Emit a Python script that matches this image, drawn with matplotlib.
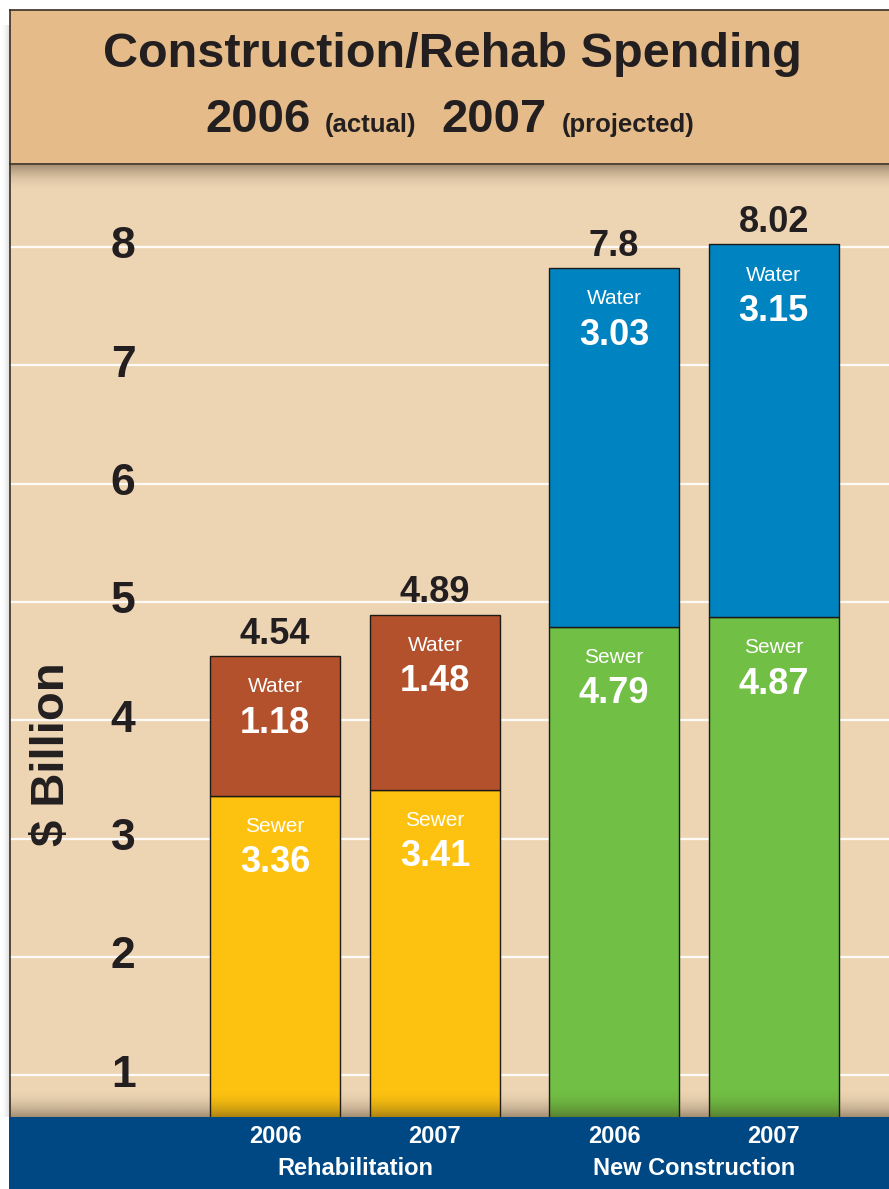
import numpy as np
import matplotlib.pyplot as plt
from matplotlib import transforms

plt.rcParams['font.family'] = ['Liberation Sans', 'DejaVu Sans']

# Spending, $ billion
years = ["2006", "2007", "2006", "2007"]
groups = ["Rehabilitation", "New Construction"]
sewer = [3.36, 3.41, 4.79, 4.87]
water = [1.18, 1.48, 3.03, 3.15]
totals = ["4.54", "4.89", "7.8", "8.02"]
y_ticks = [1, 2, 3, 4, 5, 6, 7, 8]

sewer_colors = ["#fdc210", "#fdc210", "#71bf44", "#71bf44"]
water_colors = ["#b3512c", "#b3512c", "#0083c1", "#0083c1"]

INK = "#231f20"
W, H = 889, 1189


def frac(x0, y0, x1, y1):
    """Pixel box (top-left origin) -> figure fraction rect."""
    return [x0 / W, 1 - y1 / H, (x1 - x0) / W, (y1 - y0) / H]


def shadow(fig, box, color, alpha, zorder, axis="y"):
    ax = fig.add_axes(frac(*box), zorder=zorder)
    ax.set_axis_off()
    ax.patch.set_visible(False)
    n = 64
    rgba = np.zeros((n, 1, 4)) if axis == "y" else np.zeros((1, n, 4))
    rgba[..., :3] = color
    rgba[..., 3] = alpha.reshape(rgba.shape[:2])
    ax.imshow(rgba, aspect="auto", interpolation="bilinear", extent=[0, 1, 0, 1])
    return ax


fig = plt.figure(figsize=(W / 100, H / 100), dpi=100, facecolor="white")

# header panel
hdr = fig.add_axes(frac(10, 10, W + 2, 164), zorder=3)
hdr.set_facecolor("#e5bc89")
hdr.set_xticks([])
hdr.set_yticks([])
for side in ("left", "top", "bottom"):
    hdr.spines[side].set_color("#3a2e25")
    hdr.spines[side].set_linewidth(1.2)
hdr.spines["right"].set_visible(False)

fig.text(452 / W, 1 - 67 / H, "Construction/Rehab Spending", ha="center",
         va="baseline", fontsize=35, fontweight="bold", color=INK, zorder=5)
for x, txt, size in [(205, "2006", 34), (325, "(actual)", 18.5),
                     (441, "2007", 34), (562, "(projected)", 18.5)]:
    fig.text(x / W, 1 - 132 / H, txt, ha="left", va="baseline",
             fontsize=size, fontweight="bold", color=INK, zorder=5)

# main plot area
ax = fig.add_axes(frac(10, 164, W + 2, 1117), zorder=1)
ax.set_facecolor("#edd5b3")
x = np.array([0, 1, 2.12, 3.12])
width = 0.815
ax.set_xlim(-1.658, 3.853)
ax.set_ylim(0.647, 8.70)

ax.set_yticks(y_ticks)
ax.set_xticks([])
ax.tick_params(axis="y", length=0, labelleft=False)
ax.yaxis.grid(True, color="white", linewidth=1.6, alpha=0.9)
ax.set_axisbelow(True)
for side in ("top", "right", "bottom"):
    ax.spines[side].set_visible(False)
ax.spines["left"].set_color("#3a2e25")
ax.spines["left"].set_linewidth(1.2)

ax.bar(x, sewer, width, color=sewer_colors, edgecolor="#1e1a17", linewidth=1, zorder=2)
ax.bar(x, water, width, bottom=sewer, color=water_colors, edgecolor="#1e1a17",
       linewidth=1, zorder=2)

for v in y_ticks:
    ax.text(-0.95, v, str(v), ha="center", va="center", fontsize=32,
            fontweight="bold", color=INK)
ax.text(-1.395, 3.71, "$ Billion", rotation=90, ha="center", va="center",
        fontsize=34, fontweight="bold", color=INK)

for xi, s, w, tot in zip(x, sewer, water, totals):
    top = s + w
    ax.annotate(tot, (xi, top), xytext=(0, 9), textcoords="offset points",
                ha="center", va="baseline", fontsize=26, fontweight="bold", color=INK)
    for seg_top, name, val in [(top, "Water", w), (s, "Sewer", s)]:
        ax.annotate(name, (xi, seg_top), xytext=(0, -26), textcoords="offset points",
                    ha="center", va="baseline", fontsize=15, color="white", zorder=4)
        ax.annotate(f"{val:.2f}", (xi, seg_top), xytext=(0, -55),
                    textcoords="offset points", ha="center", va="baseline",
                    fontsize=26, fontweight="bold", color="white", zorder=4)

# bottom band with category labels
band = fig.add_axes(frac(9, 1117, W + 2, H + 2), zorder=3)
band.set_facecolor("#004884")
band.set_xticks([])
band.set_yticks([])
for sp in band.spines.values():
    sp.set_visible(False)

bt = transforms.blended_transform_factory(ax.transData, fig.transFigure)
for xi, yr in zip(x, years):
    fig.text(xi, 1 - 1143 / H, yr, transform=bt, ha="center", va="baseline",
             fontsize=17, fontweight="bold", color="white", zorder=5)
for g, name in enumerate(groups):
    xc = (x[2 * g] + x[2 * g + 1]) / 2
    fig.text(xc, 1 - 1175 / H, name, transform=bt, ha="center", va="baseline",
             fontsize=17, fontweight="bold", color="white", zorder=5)

# soft shadows under the header, above the band and left of the frame
g = np.linspace(0, 1, 64)
shadow(fig, (10, 165, W, 192), (0.30, 0.22, 0.14), 0.45 * (1 - g) ** 2, 2)
shadow(fig, (10, 1088, W, 1117), (0.20, 0.14, 0.08), 0.40 * g ** 2, 2)
shadow(fig, (0, 25, 10, 1117), (0.4, 0.4, 0.4), 0.25 * g ** 2, 0, axis="x")

fig.savefig("out.png", dpi=100, facecolor="white")
